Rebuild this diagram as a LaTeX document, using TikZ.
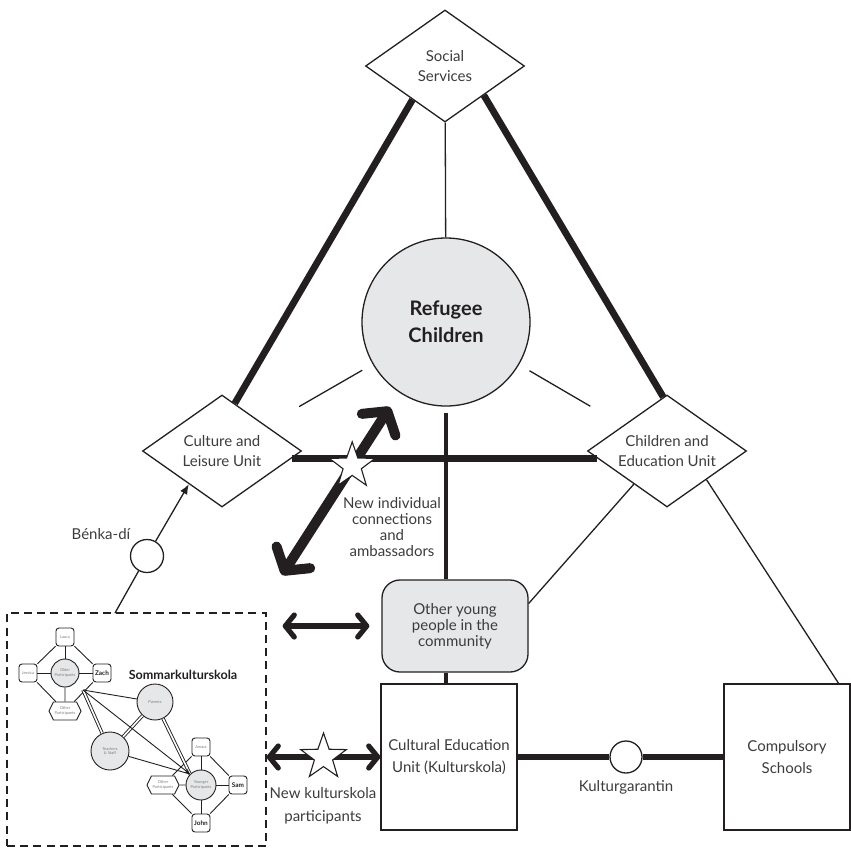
\documentclass[tikz,border=0pt]{standalone}
\usepackage{fontspec}
\setmainfont{Lato}
\usetikzlibrary{shapes.geometric,shapes.symbols,arrows.meta}

\definecolor{ink}{HTML}{231F20}
\definecolor{inktext}{HTML}{3C3C3C}
\definecolor{shade}{HTML}{E6E7E8}

\tikzset{
  unit/.style={draw=ink, diamond, shape aspect=1.4, fill=white, inner sep=0pt,
    line width=0.65pt, minimum width=79.5pt, minimum height=56pt,
    align=center, text=inktext, font=\fontsize{7.5}{9.75}\selectfont},
  block/.style={draw=ink, rectangle, fill=white, inner sep=0pt, line width=0.65pt,
    minimum width=68pt, minimum height=73pt,
    align=center, text=inktext, font=\fontsize{7.5}{10.7}\selectfont},
  joint/.style={draw=ink, circle, fill=white, inner sep=0pt, line width=0.65pt},
  caption/.style={align=center, text=inktext, inner sep=0pt, font=\fontsize{7.5}{8}\selectfont},
  newstar/.style={draw=ink, star, star points=5, star point ratio=2.5, fill=white,
    inner sep=0pt, minimum size=24pt, line width=0.55pt},
  thinline/.style={draw=ink, line width=0.65pt},
  heavyline/.style={draw=ink, line width=3.4pt},
  midline/.style={draw=ink, line width=2pt},
  twoway/.style={draw=ink, line width=2.6pt,
    {Straight Barb[length=4.5pt,width=11pt,round]}-{Straight Barb[length=4.5pt,width=11pt,round]}},
  person/.style={draw=ink, rectangle, rounded corners=1.5pt, fill=white, inner sep=0pt,
    line width=0.45pt, minimum size=9pt, text=gray, font=\fontsize{2}{2.4}\selectfont},
  named/.style={person, text=ink, font=\bfseries\fontsize{3.2}{3.8}\selectfont},
  group/.style={draw=ink, circle, fill=shade, inner sep=0pt, line width=0.45pt,
    align=center, text=gray, font=\fontsize{2}{2.4}\selectfont},
  others/.style={draw=ink, signal, signal to=east and west, signal pointer angle=128,
    fill=white, inner sep=0pt, line width=0.45pt,
    minimum width=16pt, minimum height=9pt, align=center, text=gray,
    font=\fontsize{2}{2.4}\selectfont},
  tie/.style={draw=ink, line width=0.45pt},
  bond/.style={draw=ink, line width=0.45pt, double=white, double distance=0.8pt},
}

\begin{document}
\begin{tikzpicture}[x=0.5pt,y=-0.5pt]
    \useasboundingbox (0,0) rectangle (851,847);

    \node[unit] (ss) at (445,66) {Social\\Services};
    \node[draw=ink, circle, fill=shade, inner sep=0pt, line width=0.65pt, minimum size=84pt,
        align=center, text=ink, font=\bfseries\fontsize{10}{13.3}\selectfont] (rc) at (446,322) {Refugee\\Children};
    \node[unit] (cl) at (222,451) {Culture and\\Leisure Unit};
    \node[unit] (ce) at (667,451) {Children and\\Education Unit};
    \node[draw=ink, rectangle, rounded corners=9pt, fill=shade, inner sep=0pt, line width=0.65pt,
        minimum width=73pt, minimum height=46pt, align=center, text=inktext,
        font=\fontsize{7.5}{8}\selectfont] (oy) at (455,626) {Other young\\people in the\\community};
    \node[block] (ceu) at (449,757) {Cultural Education\\Unit (Kulturskola)};
    \node[block, minimum width=63pt] (cs) at (787,757) {Compulsory\\Schools};
    \node[joint, minimum size=16pt,
        label={[caption, label distance=3pt]below:Kulturgarantin}] (kg) at (626,757) {};
    \node[joint, minimum size=16.5pt,
        label={[caption, label distance=3pt]above left:Bénka-dí}] (bk) at (147,556) {};
    \node[draw=ink, dash pattern=on 4pt off 2.6pt, line width=0.65pt, inner sep=0pt,
        minimum width=129.5pt, minimum height=116.5pt] (sk) at (136.5,729.5) {};
    \node[caption] (nitext) at (392,527) {New individual\\connections\\and\\ambassadors};
    \node[caption, font=\fontsize{7.5}{11.3}\selectfont] (nktext) at (323,806) {New kulturskola\\participants};
    \coordinate (bkfoot) at (115,613);
    \coordinate (nia) at (282,575);
    \coordinate (nib) at (390,407);

    \path[thinline] (ss) -- (rc);
    \path[heavyline] (ss.226) -- (cl.75);
    \path[heavyline] (ss.-37) -- (ce.94);
    \path[heavyline] (cl.-6) -- (ce.186);
    \path[thinline, shorten <=6pt, shorten >=19pt] (rc) -- (cl);
    \path[thinline, shorten <=6pt, shorten >=19pt] (rc) -- (ce);
    \path[midline, shorten <=3pt] (rc) -- (rc |- oy.north);
    \path[midline] (oy.south -| rc) -- (ceu.north -| rc);
    \path[thinline] (ce.225) -- (oy.17);
    \path[thinline] (ce.-36) -- (cs.55);
    \path[heavyline] (ceu) -- (kg) -- (cs);
    \path[thinline] (bkfoot) -- (bk);
    \path[thinline, -{Latex[length=5pt,width=4pt]}] (bk) -- (cl.225);
    \path[draw=ink, line width=5pt, {Straight Barb[length=8pt,width=20pt,round]}-{Straight Barb[length=8pt,width=20pt,round]}]
        (nia) -- node[newstar, pos=0.65] (ns1) {} (nib);
    \path[twoway, shorten <=8pt, shorten >=6pt] (sk.east |- oy.west) -- (oy.west);
    \path[twoway] (sk.east |- ceu.west) -- node[newstar] (ns2) {} (ceu.west);

    \node[group, minimum size=14pt] (op) at (65,673) {Older\\Participants};
    \node[person] (laura) at (65,637) {Laura};
    \node[person] (jessica) at (28,673) {Jessica};
    \node[named] (zach) at (102,673) {Zach};
    \node[others] (oop) at (65,711) {Other\\Participants};
    \node[text=ink, inner sep=0pt, font=\bfseries\fontsize{6.3}{7}\selectfont] (skname) at (183,675) {Sommarkulturskola};
    \node[group, minimum size=18pt] (par) at (155,702) {Parents};
    \node[group, minimum size=19pt] (ts) at (110,751) {Teachers\\\& Staff};
    \node[group, minimum size=15pt] (yp) at (201,785) {Younger\\Participants};
    \node[person] (amara) at (201,747) {Amara};
    \node[named] (sam) at (238,785) {Sam};
    \node[named] (john) at (201,823) {John};
    \node[others] (oyp) at (163,785) {Other\\Participants};
    \coordinate (meet) at (83,690);

    \path[tie] (laura) -- (zach);
    \path[tie] (zach) -- (oop);
    \path[tie] (oop) -- (jessica);
    \path[tie] (jessica) -- (laura);
    \path[tie] (op) -- (laura);
    \path[tie] (op) -- (jessica);
    \path[tie] (op) -- (zach);
    \path[tie] (op) -- (oop);
    \path[tie] (amara) -- (sam);
    \path[tie] (sam) -- (john);
    \path[tie] (john) -- (oyp);
    \path[tie] (oyp) -- (amara);
    \path[tie] (yp) -- (amara);
    \path[tie] (yp) -- (sam);
    \path[tie] (yp) -- (john);
    \path[tie] (yp) -- (oyp);
    \path[tie] (meet) -- (par);
    \path[bond] (meet) -- (ts);
    \path[bond] (ts) -- (par);
    \path[bond] (par) -- (yp.135);
    \path[tie] (ts) -- (yp.135);
    \path[tie, -{Stealth[length=3pt,width=2.5pt]}] (meet) -- (yp.135);
\end{tikzpicture}
\end{document}
